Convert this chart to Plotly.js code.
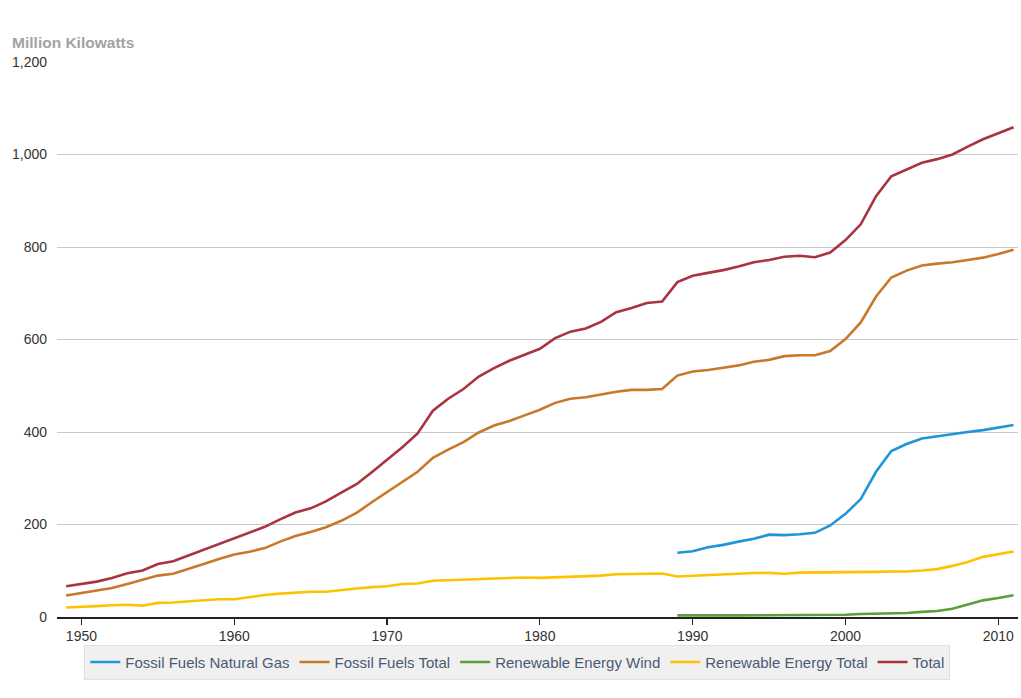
<!DOCTYPE html>
<html>
<head>
<meta charset="utf-8">
<script src="https://cdn.plot.ly/plotly-3.0.1.min.js"></script>
<style>html,body{margin:0;padding:0;background:#fff;}#chart{width:1021px;height:698px;}</style>
</head>
<body>
<div id="chart"></div>
<script>
// Years
const yearsAll = [];
for (let y = 1949; y <= 2011; y++) yearsAll.push(y);
const yearsLate = [];
for (let y = 1989; y <= 2011; y++) yearsLate.push(y);

// Million Kilowatts
const total = [66.5,71.5,76.5,84.5,94.5,100.5,114.5,120.5,133,145,158,170,182,195,211,226,235,250,269,287,313,339,367,397,446,472,493,520,538,554,567,580,603,617,624,638,659,668,679,682,724,738,744,750,758,767,772,779,781,778,788,815,849,910,953,967,982,990,1000,1017,1033,1046,1059];
const fossilTotal = [46.5,51.5,56.5,62.5,71.5,80.5,89.5,93.5,103.5,114.5,125.5,135,141,149,163,175,184,194,208,225,248,270,291,314,344,362,378,399,414,424,436,448,463,472,475,481,487,491,491,493,522,531,534,539,544,552,556,564,566,566,575,601,637,693,734,749,760,764,767,772,777,785,794];
const renewTotal = [20.5,21.5,23.5,25.5,26.5,24.5,30.5,31.5,33.5,36.5,38.5,38.5,43.5,47.5,50.5,52.5,54.5,54.5,58.5,61.5,64.5,66.5,71.5,72.5,78.5,79.5,81.5,81.5,82.5,84.5,85.5,84.5,85.5,86.5,87.5,89.5,92.5,92.5,93.5,94,87.5,89,92,92,94,95,95.5,93.5,96,96,97,96,97,97.5,98.5,98.5,100.5,103.5,110.5,119,130,135,141.5];
const naturalGas = [139,142,151,156,163,169,178,177,179,182,198,223,255,314,359,374,386,391,396,400,404,409,415];
const wind = [3.5,4,4,3.5,3.5,3.5,3.5,3.5,3.5,3.5,4,5,6.5,7,8,8.5,11,13,18,26.5,36,41,47];

const names = ['Fossil Fuels Natural Gas','Fossil Fuels Total','Renewable Energy Wind','Renewable Energy Total','Total'];
const colors = ['#1e96d6','#c8782a','#5c9e3c','#fdc300','#a9333f'];

const mk = (x, y, i) => ({x: x, y: y, name: names[i], type: 'scatter', mode: 'lines',
  line: {color: colors[i], width: 2.6}, hoverinfo: 'x+y+name'});

const data = [
  mk(yearsLate, naturalGas, 0),
  mk(yearsAll, fossilTotal, 1),
  mk(yearsLate, wind, 2),
  mk(yearsAll, renewTotal, 3),
  mk(yearsAll, total, 4)
];

const layout = {
  width: 1021, height: 698,
  margin: {l: 57, r: 3, t: 62, b: 81},
  paper_bgcolor: '#fff', plot_bgcolor: '#fff',
  font: {family: '"Liberation Sans", Arial, sans-serif', size: 14, color: '#333'},
  title: {text: '<b>Million Kilowatts</b>', font: {size: 15.5, color: '#a3a3a3'},
    xref: 'container', yref: 'container', x: 0.0118, xanchor: 'left', y: 0.939, yanchor: 'middle'},
  xaxis: {range: [1948.4, 2011.29], tickvals: [1950,1960,1970,1980,1990,2000,2010],
    showgrid: false, zeroline: false, showline: true, linecolor: '#222', linewidth: 1.5,
    ticks: 'outside', ticklen: 6, tickcolor: '#222', tickwidth: 1.2,
    tickfont: {size: 14, color: '#333'}},
  yaxis: {range: [0, 1200], tickvals: [0,200,400,600,800,1000,1200], tickformat: ',d',
    showgrid: true, gridcolor: '#c9c9c9', gridwidth: 1, zeroline: false, showline: false,
    ticks: '', ticklabelstandoff: 9, tickfont: {size: 14, color: '#333'}},
  showlegend: true,
  legend: {orientation: 'h', x: 0.479, xanchor: 'center', y: -0.05, yanchor: 'top',
    bgcolor: '#f0f0f0', bordercolor: '#e1e1e1', borderwidth: 1,
    font: {size: 15, color: '#4b5a73'}, itemwidth: 30, traceorder: 'normal'}
};

Plotly.newPlot('chart', data, layout, {displayModeBar: false, staticPlot: true});
</script>
</body>
</html>
